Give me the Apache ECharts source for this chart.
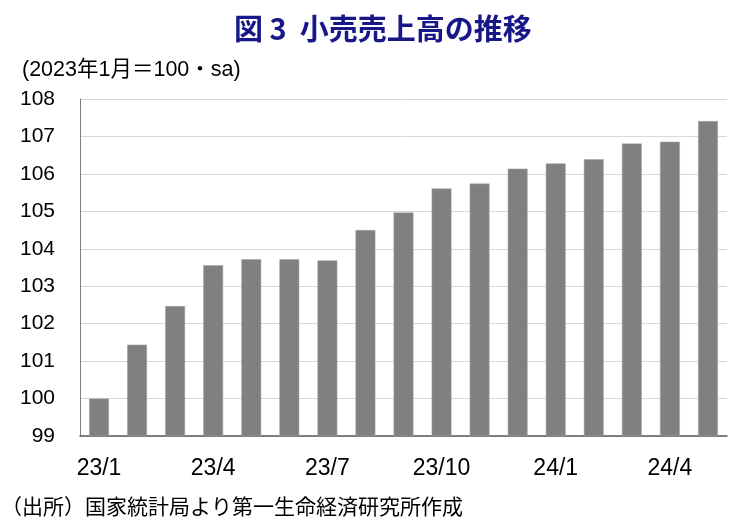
<!DOCTYPE html>
<html><head><meta charset="utf-8">
<script src="https://cdn.jsdelivr.net/npm/echarts@6/dist/echarts.min.js"></script>
<style>html,body{margin:0;padding:0;background:#fff}#c{width:738px;height:523px}</style>
</head><body><div id="c"></div>
<script>
const categories = ['23/1','23/2','23/3','23/4','23/5','23/6','23/7','23/8','23/9','23/10','23/11','23/12','24/1','24/2','24/3','24/4','24/5'];
const values = [100.0,101.44,102.47,103.56,103.72,103.72,103.69,104.50,104.97,105.61,105.74,106.14,106.28,106.39,106.81,106.86,107.41];
const yTicks = [99,100,101,102,103,104,105,106,107,108];
const titleText = '図 3  小売売上高の推移';
const unitText = '(2023年1月＝100・sa)';
const sourceText = '（出所）国家統計局より第一生命経済研究所作成';

const latin = '"Liberation Sans","Noto Sans CJK JP",sans-serif';
const cjk = '"Noto Sans CJK JP",sans-serif';
const chart = echarts.init(document.getElementById('c'));
chart.setOption({
  animation:false,
  title:[
    {text:titleText,left:229,top:9,textStyle:{fontFamily:cjk,fontWeight:'bold',fontSize:29,color:'#17178a'}},
  ],
  graphic:[
    {type:'text',left:22,top:59,style:{text:unitText,font:'21.5px '+latin,fill:'#000'}},
    {type:'text',left:1,top:496,style:{text:sourceText,font:'21px '+cjk,fill:'#000'}}
  ],
  grid:{left:80,right:11,top:99,bottom:87},
  xAxis:{type:'category',data:categories,
    axisLine:{lineStyle:{color:'#595959',width:1.5}},
    axisTick:{show:false},
    axisLabel:{interval:2,margin:21,fontSize:23,fontFamily:latin,color:'#000'}},
  yAxis:{type:'value',min:yTicks[0],max:yTicks[yTicks.length-1],interval:1,
    axisLine:{show:true,lineStyle:{color:'#808080',width:1}},
    axisTick:{show:false},
    splitLine:{lineStyle:{color:'#d9d9d9',width:1}},
    axisLabel:{margin:25,fontSize:21,fontFamily:latin,color:'#000'}},
  series:[{type:'bar',data:values,barWidth:'52%',
    itemStyle:{color:'#808080',borderColor:'#a0a0a0',borderWidth:0.5}}]
});
</script></body></html>
